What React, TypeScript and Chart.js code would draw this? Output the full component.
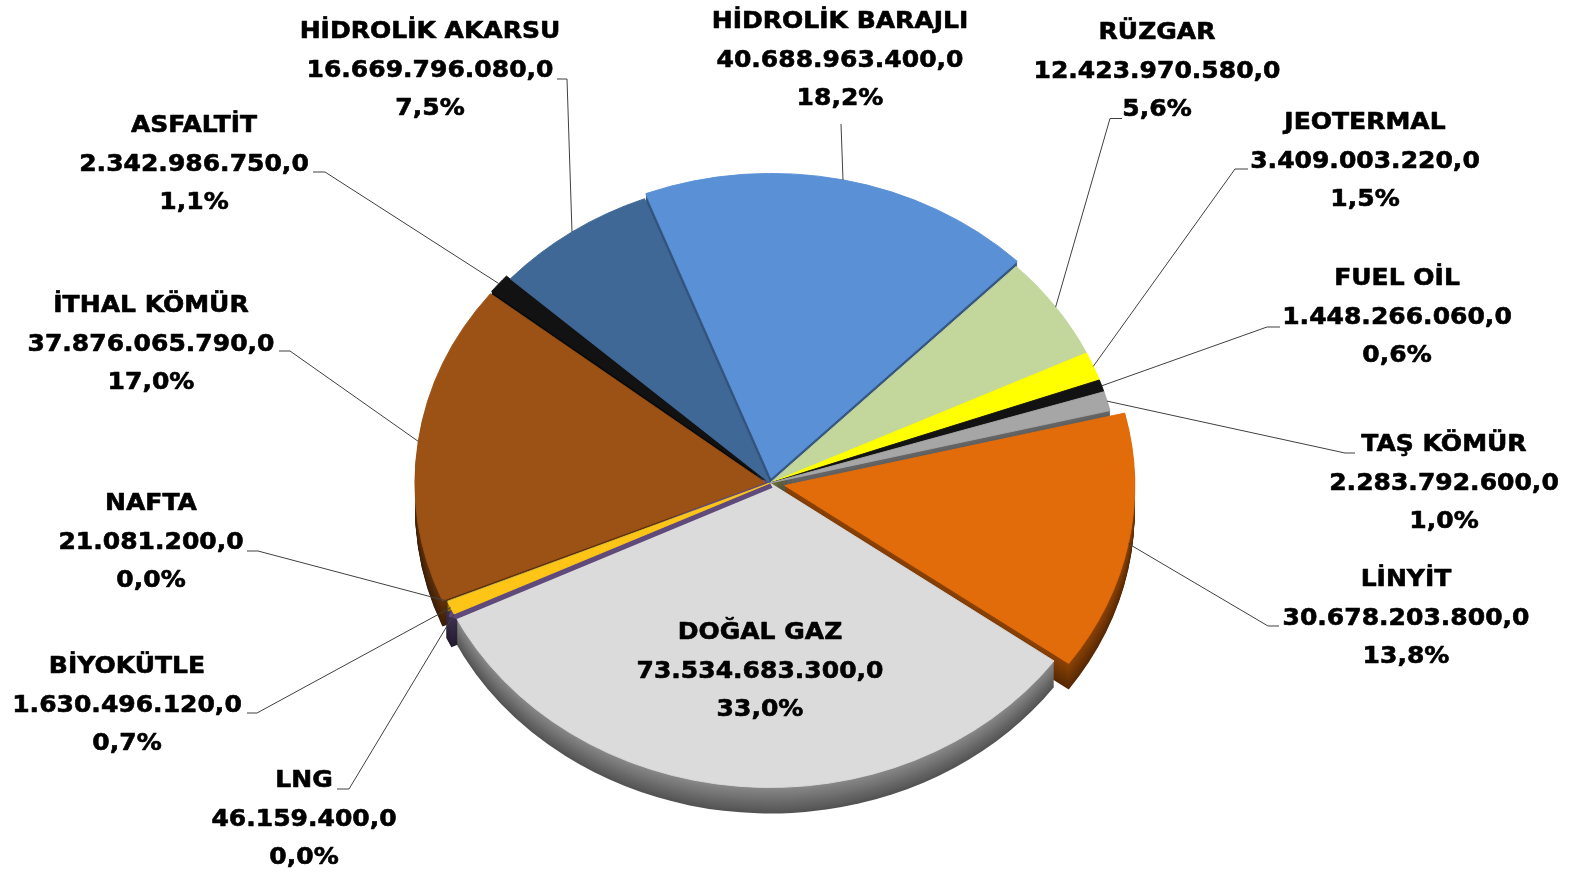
import { useEffect, useRef } from "react";
import { Chart, ArcElement, PieController } from "chart.js";

Chart.register(ArcElement, PieController);

// ---- data ----
const categories = [
  "HİDROLİK BARAJLI",
  "RÜZGAR",
  "JEOTERMAL",
  "FUEL OİL",
  "TAŞ KÖMÜR",
  "LİNYİT",
  "DOĞAL GAZ",
  "LNG",
  "BİYOKÜTLE",
  "NAFTA",
  "İTHAL KÖMÜR",
  "ASFALTİT",
  "HİDROLİK AKARSU",
];
const values = [
  40688963400.0, 12423970580.0, 3409003220.0, 1448266060.0, 2283792600.0,
  30678203800.0, 73534683300.0, 46159400.0, 1630496120.0, 21081200.0,
  37876065790.0, 2342986750.0, 16669796080.0,
];

// ---- styles / layout ----
const colors = [
  "#5A91D6", "#C3D69B", "#FFFF00", "#121212", "#A6A6A6", "#E36C0A", "#DBDBDB",
  "#5F4A7B", "#FFC516", "#4BACC6", "#9C5115", "#121212", "#3F6897",
];
const borderWidths = [1, 1, 1, 1, 1, 1, 1, 12, 1, 0, 1, 1, 1];
const explode = [6, 0, 0, 0, 0, 15, 0, 0, 0, 0, 5, 5, 0];
const labelX = [840, 1157, 1365, 1397, 1444, 1406, 760, 304, 127, 151, 151, 194, 430];
const labelY = [20, 31, 121, 277, 443, 578, 631, 779, 665, 502, 304, 124, 30];
const leaderFrom: (number[] | null)[] = [
  [841, 124], [1122, 118.5], [1248, 169], [1280, 327], [1355, 453], [1279, 626], null,
  [337, 789], [247, 713], [247, 551], [279, 351], [313, 172], [557, 79],
];
const leaderElbow: (number[] | null)[] = [
  null, [1110, 118.5], [1235, 169], [1267, 327], [1345, 453], [1268, 626], null,
  [349, 789], [257, 713], [258, 551], [290, 351], [325, 172], [567, 79],
];

const W = 1577;
const H = 875;
const RADIUS = 350;
const TILT = 0.87;
const DEPTH = 26;
const ROTATION = -21;
const FONT_SIZE = 23;
const CAP = FONT_SIZE * 0.729;
const LINE = 38.5;
const NUMBER_ROW_WIDTH = 247;

function fmtNum(v: number) {
  const [i, d] = v.toFixed(1).split(".");
  return i.replace(/\B(?=(\d{3})+(?!\d))/g, ".") + "," + d;
}
function fmtPct(p: number) {
  return p.toFixed(1).replace(".", ",") + "%";
}
function shade(hex: string, f: number) {
  const n = parseInt(hex.slice(1), 16);
  const r = Math.round(((n >> 16) & 255) * f);
  const g = Math.round(((n >> 8) & 255) * f);
  const b = Math.round((n & 255) * f);
  return `rgb(${r},${g},${b})`;
}

const pie3d = {
  id: "pie3d",
  beforeDatasetsDraw(chart: any) {
    const ctx: CanvasRenderingContext2D = chart.ctx;
    const arcs = chart.getDatasetMeta(0).data as any[];
    if (!arcs.length) return false;
    const cx = arcs[0].x;
    const cy = arcs[0].y;
    // side walls
    for (let d = DEPTH; d >= 1; d--) {
      const t = (d - 1) / (DEPTH - 1);
      arcs.forEach((arc, i) => {
        const { startAngle, endAngle, outerRadius } = arc;
        if (endAngle - startAngle <= 0) return;
        const mid = (startAngle + endAngle) / 2;
        const e = explode[i];
        ctx.save();
        ctx.translate(cx, cy + d);
        ctx.scale(1, TILT);
        ctx.translate(Math.cos(mid) * e, Math.sin(mid) * e);
        ctx.beginPath();
        ctx.moveTo(0, 0);
        ctx.arc(0, 0, outerRadius, startAngle, endAngle);
        ctx.closePath();
        const c = shade(colors[i], 0.62 - 0.24 * t);
        ctx.fillStyle = c;
        ctx.fill();
        if (borderWidths[i] > 1) {
          ctx.lineWidth = borderWidths[i];
          ctx.strokeStyle = c;
          ctx.stroke();
        }
        ctx.restore();
      });
    }
    // top faces, drawn by the library's arc elements
    arcs.forEach((arc, i) => {
      const mid = (arc.startAngle + arc.endAngle) / 2;
      const e = explode[i];
      ctx.save();
      ctx.translate(cx, cy);
      ctx.scale(1, TILT);
      ctx.translate(-cx, -cy);
      ctx.translate(Math.cos(mid) * e, Math.sin(mid) * e);
      arc.draw(ctx);
      ctx.restore();
    });
    return false;
  },
  afterDraw(chart: any) {
    const ctx: CanvasRenderingContext2D = chart.ctx;
    const arcs = chart.getDatasetMeta(0).data as any[];
    if (!arcs.length) return;
    const cx = arcs[0].x;
    const cy = arcs[0].y;
    const total = values.reduce((a, b) => a + b, 0);

    // leader lines
    ctx.save();
    ctx.strokeStyle = "#404040";
    ctx.lineWidth = 1;
    arcs.forEach((arc, i) => {
      const from = leaderFrom[i];
      if (!from) return;
      const mid = (arc.startAngle + arc.endAngle) / 2;
      const r = arc.outerRadius + explode[i];
      const ex = cx + Math.cos(mid) * r;
      const ey = cy + Math.sin(mid) * r * TILT;
      ctx.beginPath();
      ctx.moveTo(from[0], from[1]);
      const el = leaderElbow[i];
      if (el) ctx.lineTo(el[0], el[1]);
      ctx.lineTo(ex, ey);
      ctx.stroke();
    });
    ctx.restore();

    // labels
    ctx.save();
    ctx.font = `bold ${FONT_SIZE}px "DejaVu Sans", sans-serif`;
    ctx.fillStyle = "#000";
    ctx.strokeStyle = "#000";
    ctx.lineWidth = 0.6;
    ctx.lineJoin = "round";
    ctx.textAlign = "center";
    ctx.textBaseline = "alphabetic";
    const sx = NUMBER_ROW_WIDTH / ctx.measureText(fmtNum(values[12])).width;
    categories.forEach((cat, i) => {
      const rows = [cat, fmtNum(values[i]), fmtPct((values[i] / total) * 100)];
      rows.forEach((s, r) => {
        ctx.save();
        ctx.translate(labelX[i], labelY[i] + r * LINE + CAP / 2);
        ctx.scale(sx, 1);
        ctx.fillText(s, 0, 0);
        ctx.strokeText(s, 0, 0);
        ctx.restore();
      });
    });
    ctx.restore();
  },
};

export default function App() {
  const ref = useRef<HTMLCanvasElement | null>(null);

  useEffect(() => {
    document.body.style.margin = "0";
    const canvas = ref.current;
    if (!canvas) return;
    const chart = new Chart(canvas, {
      type: "pie",
      data: {
        labels: categories,
        datasets: [
          {
            data: values,
            backgroundColor: colors,
            borderColor: colors,
            borderWidth: borderWidths,
            rotation: ROTATION,
            radius: RADIUS,
            offset: 0,
          } as any,
        ],
      },
      options: {
        responsive: false,
        animation: false,
        events: [],
        devicePixelRatio: 1,
        layout: {
          padding: { left: 0, right: W - 2 * 770, top: 2 * 483 - H, bottom: 0 },
        },
        plugins: {
          legend: { display: false },
          tooltip: { enabled: false },
        } as any,
      },
      plugins: [pie3d as any],
    });
    return () => chart.destroy();
  }, []);

  return (
    <div style={{ width: W, height: H, background: "#fff" }}>
      <canvas ref={ref} width={W} height={H} style={{ display: "block" }} />
    </div>
  );
}
